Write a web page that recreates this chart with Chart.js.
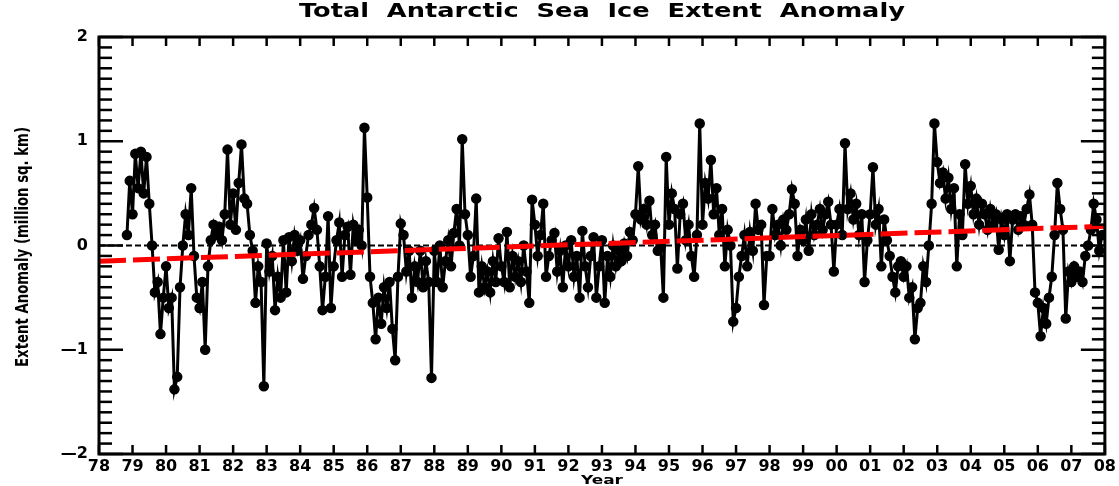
<!DOCTYPE html>
<html>
<head>
<meta charset="utf-8">
<title>Total Antarctic Sea Ice Extent Anomaly</title>
<script src="https://cdn.jsdelivr.net/npm/chart.js@4.4.1/dist/chart.umd.min.js"></script>
<style>
  html, body { margin: 0; padding: 0; background: #fff; }
  canvas { display: block; }
</style>
</head>
<body>
<canvas id="chart" width="1119" height="486"></canvas>
<script>
// Monthly extent anomaly (million sq. km), one array per year, Jan..Dec.
// The record starts in November 1978.
const firstYear = 1978;
const firstMonth = 11;
const ext1978 = [0.10, 0.62];
const ext1979 = [0.30, 0.88, 0.55, 0.90, 0.50, 0.85, 0.40, 0.00, -0.45, -0.35, -0.85, -0.50];
const ext1980 = [-0.20, -0.60, -0.50, -1.38, -1.26, -0.40, 0.00, 0.30, 0.10, 0.55, -0.10, -0.50];
const ext1981 = [-0.60, -0.35, -1.00, -0.20, 0.05, 0.20, 0.10, 0.18, 0.05, 0.30, 0.92, 0.20];
const ext1982 = [0.50, 0.15, 0.60, 0.97, 0.45, 0.40, 0.10, -0.05, -0.55, -0.20, -0.35, -1.35];
const ext1983 = [0.02, -0.25, -0.10, -0.62, -0.30, -0.50, 0.05, -0.45, 0.08, -0.15, 0.10, -0.05];
const ext1984 = [0.05, -0.32, -0.10, 0.10, 0.20, 0.36, 0.15, -0.20, -0.62, -0.30, 0.28, -0.60];
const ext1985 = [-0.20, 0.05, 0.22, -0.30, 0.10, 0.18, -0.28, 0.20, 0.05, 0.15, 0.00, 1.13];
const ext1986 = [0.46, -0.30, -0.55, -0.90, -0.50, -0.75, -0.40, -0.60, -0.35, -0.80, -1.10, -0.30];
const ext1987 = [0.21, 0.10, -0.25, -0.05, -0.50, -0.20, -0.35, -0.05, -0.40, -0.15, -0.35, -1.27];
const ext1988 = [-0.05, -0.35, 0.00, -0.40, -0.15, 0.05, -0.20, 0.12, 0.35, 0.00, 1.02, 0.30];
const ext1989 = [0.10, -0.30, -0.10, 0.45, -0.45, -0.20, -0.40, -0.25, -0.45, -0.15, -0.35, 0.07];
const ext1990 = [-0.20, -0.35, 0.13, -0.40, -0.10, -0.30, -0.15, -0.35, 0.00, -0.25, -0.55, 0.44];
const ext1991 = [0.20, -0.10, 0.10, 0.40, -0.30, -0.10, 0.05, 0.12, -0.25, -0.05, -0.40, 0.00];
const ext1992 = [-0.20, 0.05, -0.30, -0.10, -0.50, 0.14, -0.20, -0.40, -0.10, 0.08, -0.50, -0.20];
const ext1993 = [0.05, -0.55, -0.10, -0.30, 0.00, -0.20, -0.05, -0.15, 0.02, -0.10, 0.13, 0.05];
const ext1994 = [0.30, 0.76, 0.25, 0.35, 0.20, 0.43, 0.10, 0.20, -0.05, 0.00, -0.50, 0.85];
const ext1995 = [0.20, 0.50, 0.35, -0.22, 0.30, 0.40, 0.05, 0.20, -0.10, -0.30, 0.10, 1.17];
const ext1996 = [0.20, 0.60, 0.45, 0.82, 0.30, 0.55, 0.10, 0.35, -0.20, 0.15, 0.00, -0.73];
const ext1997 = [-0.60, -0.30, -0.10, 0.10, -0.20, 0.13, -0.05, 0.40, 0.15, 0.20, -0.57, -0.10];
const ext1998 = [-0.10, 0.35, 0.10, 0.20, 0.00, 0.25, 0.15, 0.30, 0.54, 0.40, -0.10, 0.15];
const ext1999 = [0.05, 0.25, -0.05, 0.30, 0.10, 0.20, 0.35, 0.15, 0.30, 0.42, 0.20, -0.25];
const ext2000 = [0.20, 0.35, 0.10, 0.98, 0.35, 0.50, 0.25, 0.40, 0.10, 0.30, -0.35, 0.05];
const ext2001 = [0.30, 0.75, 0.20, 0.35, -0.20, 0.25, 0.05, -0.10, -0.30, -0.45, -0.20, -0.15];
const ext2002 = [-0.30, -0.20, -0.50, -0.40, -0.90, -0.60, -0.55, -0.20, -0.35, 0.00, 0.40, 1.17];
const ext2003 = [0.80, 0.60, 0.70, 0.45, 0.65, 0.35, 0.55, -0.20, 0.30, 0.10, 0.78, 0.40];
const ext2004 = [0.57, 0.30, 0.45, 0.20, 0.40, 0.30, 0.15, 0.35, 0.20, 0.30, -0.04, 0.25];
const ext2005 = [0.10, 0.30, -0.15, 0.25, 0.30, 0.15, 0.28, 0.20, 0.35, 0.49, 0.20, -0.45];
const ext2006 = [-0.55, -0.87, -0.60, -0.75, -0.50, -0.30, 0.10, 0.60, 0.35, 0.15, -0.70, -0.25];
const ext2007 = [-0.35, -0.20, -0.30, -0.25, -0.35, -0.10, 0.00, 0.15, 0.40, 0.25, -0.05, 0.10];

const yearRows = [ext1978, ext1979, ext1980, ext1981, ext1982, ext1983, ext1984, ext1985,
  ext1986, ext1987, ext1988, ext1989, ext1990, ext1991, ext1992, ext1993, ext1994, ext1995,
  ext1996, ext1997, ext1998, ext1999, ext2000, ext2001, ext2002, ext2003, ext2004, ext2005,
  ext2006, ext2007];

// Linear trend, end values
const trendYears = [1978, 2008];
const trendValues = [-0.15, 0.185];

// Axis labels
const yearTickLabels = ['78','79','80','81','82','83','84','85','86','87','88','89','90','91','92',
  '93','94','95','96','97','98','99','00','01','02','03','04','05','06','07','08'];
const yTickValues = [-2, -1, 0, 1, 2];
const yTickLabels = ['\u20142', '\u20141', '0', '1', '2'];

const chartTitle = 'Total  Antarctic  Sea  Ice  Extent  Anomaly';
const yAxisTitle = 'Extent Anomaly (million sq. km)';
const xAxisTitle = 'Year';

// monthly points: x = year + (month - 1) / 12
const monthlyPoints = [];
yearRows.forEach((row, i) => {
  const yr = firstYear + i;
  const m0 = i === 0 ? firstMonth : 1;
  row.forEach((v, k) => monthlyPoints.push({ x: yr + (m0 - 1 + k) / 12, y: v }));
});
const trendPoints = trendYears.map((t, i) => ({ x: t, y: trendValues[i] }));
const zeroPoints = trendYears.map(t => ({ x: t, y: 0 }));

const FONT = 'DejaVu Sans';

// box with inward tick marks, drawn from the scales
const framePlugin = {
  id: 'frame',
  afterDatasetsDraw(chart) {
    const { ctx, chartArea: a, scales: { x, y } } = chart;
    const seg = (x1, y1, x2, y2) => { ctx.beginPath(); ctx.moveTo(x1, y1); ctx.lineTo(x2, y2); ctx.stroke(); };
    ctx.save();
    ctx.strokeStyle = '#000';
    ctx.lineCap = 'butt';
    ctx.lineWidth = 2.5;
    x.ticks.forEach(t => {
      const px = x.getPixelForValue(t.value);
      seg(px, a.bottom, px, a.bottom - 9);
      seg(px, a.top, px, a.top + 9);
    });
    for (let k = -20; k <= 20; k++) {
      const py = y.getPixelForValue(k / 10);
      const len = k % 10 === 0 ? 24 : 13;
      seg(a.left, py, a.left + len, py);
      seg(a.right, py, a.right - len, py);
    }
    ctx.lineWidth = 3;
    ctx.strokeRect(a.left, a.top, a.right - a.left, a.bottom - a.top);
    ctx.restore();
  }
};

// stretched text helper
function fitText(ctx, text, cx, cy, width, font, angle) {
  ctx.save();
  ctx.font = font;
  ctx.fillStyle = '#000';
  ctx.textAlign = 'center';
  ctx.textBaseline = 'middle';
  const w = ctx.measureText(text).width;
  ctx.translate(cx, cy);
  if (angle) ctx.rotate(angle);
  ctx.scale(width / w, 1);
  ctx.fillText(text, 0, 0);
  ctx.restore();
}

const textPlugin = {
  id: 'texts',
  afterDraw(chart) {
    const { ctx, chartArea: a } = chart;
    const cx = (a.left + a.right) / 2;
    fitText(ctx, chartTitle, cx, 12, 606, 'bold 19px "' + FONT + '"', 0);
    fitText(ctx, yAxisTitle, 23, 247, 240, 'bold 18px "' + FONT + '"', -Math.PI / 2);
    fitText(ctx, xAxisTitle, cx, 481, 42, 'bold 13px "' + FONT + '"', 0);
  }
};

new Chart(document.getElementById('chart'), {
  type: 'line',
  data: {
    datasets: [
      {
        data: trendPoints,
        borderColor: '#ff0000',
        borderWidth: 5,
        borderDash: [27, 7],
        pointRadius: 0,
        order: 0
      },
      {
        data: monthlyPoints,
        borderColor: '#000',
        borderWidth: 3,
        pointRadius: 4.5,
        pointBackgroundColor: '#000',
        pointBorderColor: '#000',
        pointBorderWidth: 1.5,
        tension: 0,
        order: 1
      },
      {
        data: zeroPoints,
        borderColor: '#000',
        borderWidth: 2,
        borderDash: [6, 3],
        pointRadius: 0,
        order: 2
      }
    ]
  },
  options: {
    responsive: false,
    animation: false,
    devicePixelRatio: 1,
    layout: { padding: { top: 37, right: 13, bottom: 0, left: 0 } },
    plugins: { legend: { display: false }, title: { display: false }, tooltip: { enabled: false } },
    scales: {
      x: {
        type: 'linear',
        min: 1978,
        max: 2008,
        grid: { display: false, drawTicks: false },
        border: { display: false },
        afterFit(scale) { scale.height = 32; },
        ticks: {
          stepSize: 1,
          autoSkip: false,
          maxRotation: 0,
          minRotation: 0,
          padding: 3,
          color: '#000',
          font: { family: FONT, weight: 'bold', size: 16 },
          callback: v => (Number.isInteger(v) ? yearTickLabels[v - 1978] : '')
        }
      },
      y: {
        min: -2,
        max: 2,
        grid: { display: false, drawTicks: false },
        border: { display: false },
        afterFit(scale) { scale.width = 99; },
        ticks: {
          stepSize: 1,
          padding: 11,
          color: '#000',
          font: { family: FONT, weight: 'bold', size: 16 },
          callback: v => {
            const i = yTickValues.indexOf(v);
            return i >= 0 ? yTickLabels[i] : '';
          }
        }
      }
    }
  },
  plugins: [framePlugin, textPlugin]
});
</script>
</body>
</html>
